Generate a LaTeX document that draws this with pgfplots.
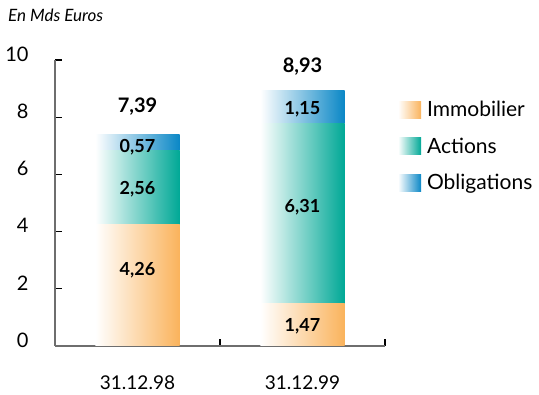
\documentclass[border=0pt]{standalone}
\usepackage{pgfplots}
\pgfplotsset{compat=1.18}
\usepackage{fontspec}
\setmainfont{Lato}
\definecolor{cOrange}{HTML}{FAB35C}
\definecolor{cTeal}{HTML}{00A896}
\definecolor{cBlue}{HTML}{0A87C6}
\definecolor{axisgray}{HTML}{6E6E6E}
\tikzset{
  seglabel/.style={font=\fontsize{18}{20}\selectfont\bfseries},
  totlabel/.style={font=\fontsize{20}{24}\selectfont\bfseries},
}
\pgfplotsset{
  sq legend/.style={legend image code/.code={%
    \path[##1, draw=none] (0pt,-8.5pt) rectangle (23pt,8.5pt);}},
  % common frame shared by the overlaid axes
  frame/.style={
    at={(55pt,49pt)}, anchor=south west,
    scale only axis, width=330pt, height=286pt,
    xmin=-0.5, xmax=1.5, ymin=0, ymax=10,
    clip=false,
  },
  bars/.style={frame, ybar stacked, bar width=0.51},
  seg/.style={draw=none, left color=white, right color=#1, sq legend},
}
\begin{document}
\begin{tikzpicture}[x=1pt,y=1pt]
\useasboundingbox (0,0) rectangle (539,395);
\node[anchor=west, font=\fontsize{17}{20}\selectfont\itshape, inner sep=0pt] at (8,380) {En Mds Euros};
% 31.12.98 with axes and legend
\begin{axis}[
  bars,
  ytick={0,2,...,10},
  xtick={0.5,1.5}, xticklabels={},
  extra x ticks={0,1}, extra x tick labels={31.12.98,31.12.99},
  extra x tick style={major tick length=0pt,
    tick label style={yshift=-26pt, font=\fontsize{19}{22}\selectfont}},
  axis x line*=bottom, axis y line*=left,
  axis line style={draw=axisgray, line width=1.6pt},
  tick align=inside, major tick length=7pt,
  tick style={black, line width=1.2pt},
  yticklabel style={xshift=-23pt, yshift=6pt, font=\fontsize{20}{24}\selectfont},
  /pgf/number format/assume math mode=true,
  legend style={draw=none, fill=none, at={(1.03,0.87)}, anchor=north west,
    font=\fontsize{21}{24}\selectfont, row sep=15.5pt,
    /tikz/every odd column/.append style={column sep=4pt}},
  legend cell align=left,
]
\addplot[seg=cOrange] coordinates {(0,4.26)};
\addplot[seg=cTeal]   coordinates {(0,2.56)};
\addplot[seg=cBlue]   coordinates {(0,0.57)};
\legend{Immobilier, Actions, Obligations}
\end{axis}
% 31.12.99
\begin{axis}[bars, hide axis]
\addplot[seg=cOrange] coordinates {(1,1.47)};
\addplot[seg=cTeal]   coordinates {(1,6.31)};
\addplot[seg=cBlue]   coordinates {(1,1.15)};
\end{axis}
% values on top of the bars
\begin{axis}[frame, hide axis]
\node[seglabel] at (axis cs:0,2.66) {4,26};
\node[seglabel] at (axis cs:0,5.49) {2,56};
\node[seglabel] at (axis cs:0,6.96) {0,57};
\node[seglabel] at (axis cs:1,0.70) {1,47};
\node[seglabel] at (axis cs:1,4.86) {6,31};
\node[seglabel] at (axis cs:1,8.29) {1,15};
\node[totlabel] at (axis cs:0,8.36) {7,39};
\node[totlabel] at (axis cs:1,9.76) {8,93};
\end{axis}
\end{tikzpicture}
\end{document}
